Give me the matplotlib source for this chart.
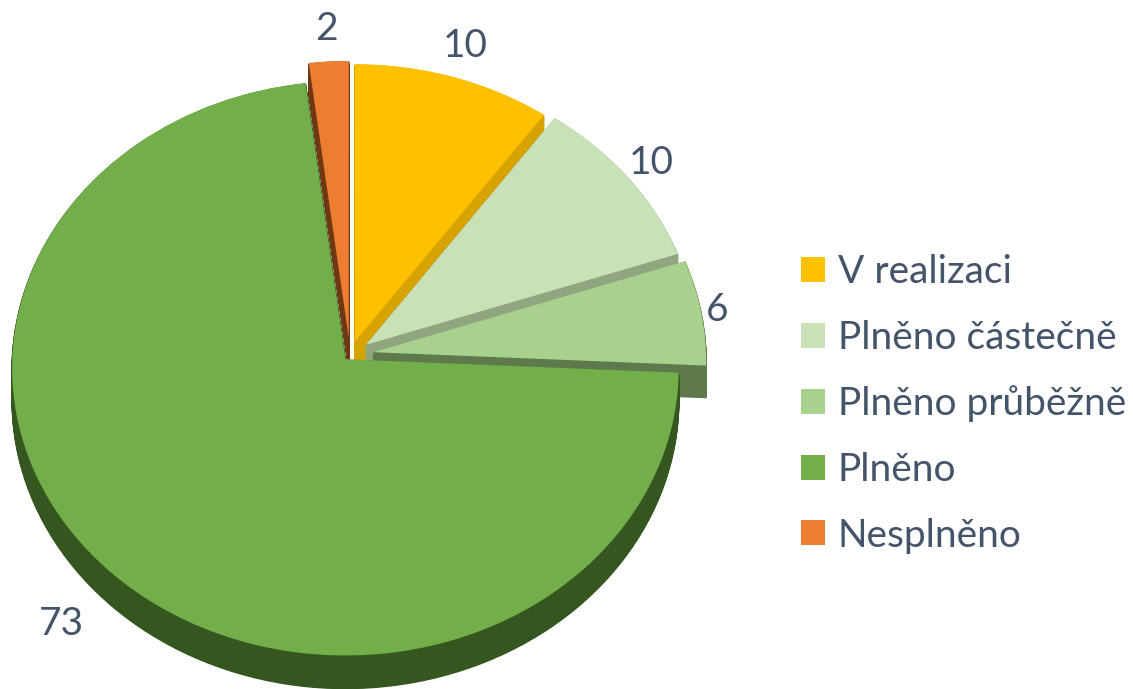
import numpy as np
import matplotlib
matplotlib.use("Agg")
import matplotlib.pyplot as plt
from matplotlib.transforms import Transform

# ---- data ----
categories = ["V realizaci", "Plněno částečně", "Plněno průběžně", "Plněno", "Nesplněno"]
values = [10, 10, 6, 73, 2]

# ---- styles ----
top_colors = ["#FFC000", "#C8E1B6", "#A9D18E", "#72AF4A", "#ED7D31"]
side_colors = ["#D6A300", "#8FA681", "#5E7A4C", "#35561F", "#6E3813"]
explode = [0.05, 0.06, 0.07, 0.02, 0.06]
label_r = [1.12, 1.09, 1.05, 1.22, 1.12]
text_color = "#44546A"
plt.rcParams['font.family'] = ['Lato', 'DejaVu Sans']

W, H = 1133, 689


class Persp(Transform):
    """Perspective projection of the unit pie plane into pixel coordinates."""
    input_dims = 2
    output_dims = 2
    is_separable = False
    has_inverse = False

    def __init__(self, cx, cy, A, B, k, d=0.0):
        super().__init__()
        self.cx, self.cy, self.A, self.B, self.k, self.d = cx, cy, A, B, k, d

    def transform_non_affine(self, xy):
        xy = np.asarray(xy, dtype=float)
        single = xy.ndim == 1
        xy = np.atleast_2d(xy)
        u, v = xy[:, 0], xy[:, 1]
        w = 1.0 + self.k * v
        X = self.cx + self.A * u / w
        Y = self.cy - (self.B * v - self.d) / w
        out = np.column_stack([X, Y])
        return out[0] if single else out


geo = dict(cx=350, cy=355, A=333, B=286.7, k=0.0314)
depth = 32

fig = plt.figure(figsize=(W / 100, H / 100), dpi=100)
ax = fig.add_axes([0, 0, 1, 1])

# side (extrusion) layers
for off in np.arange(depth, 0, -1.0):
    wedges, _ = ax.pie(values, explode=explode, startangle=90, counterclock=False,
                       colors=side_colors, radius=1.0,
                       wedgeprops=dict(linewidth=1.0))
    for wdg, c in zip(wedges, side_colors):
        wdg.set_edgecolor(c)
        wdg.set_transform(Persp(d=off, **geo) + ax.transData)
        wdg.set_clip_on(False)

# top faces
top_wedges, _ = ax.pie(values, explode=explode, startangle=90, counterclock=False,
                       colors=top_colors, radius=1.0,
                       wedgeprops=dict(linewidth=0))
persp_top = Persp(d=0, **geo)
for wdg in top_wedges:
    wdg.set_transform(persp_top + ax.transData)
    wdg.set_clip_on(False)

# value labels
total = sum(values)
cum = 0
for val, ex, lr in zip(values, explode, label_r):
    theta = np.deg2rad(90 - (cum + val / 2) / total * 360)
    r = lr + ex
    x, y = persp_top.transform_non_affine(np.array([r * np.cos(theta), r * np.sin(theta)]))
    ax.text(x, y, str(val), ha='center', va='center', fontsize=28, color=text_color)
    cum += val

ax.set_aspect('auto')
ax.set_xlim(0, W)
ax.set_ylim(H, 0)
ax.set_axis_off()

fig.legend(top_wedges, categories, loc='center left',
           bbox_to_anchor=(801 / W, 1 - 404 / H), frameon=False,
           fontsize=28, handlelength=0.62, handleheight=0.62,
           handletextpad=0.33, labelspacing=0.76, labelcolor=text_color,
           borderaxespad=0, borderpad=0)

fig.savefig("out.png", dpi=100, facecolor="white")
